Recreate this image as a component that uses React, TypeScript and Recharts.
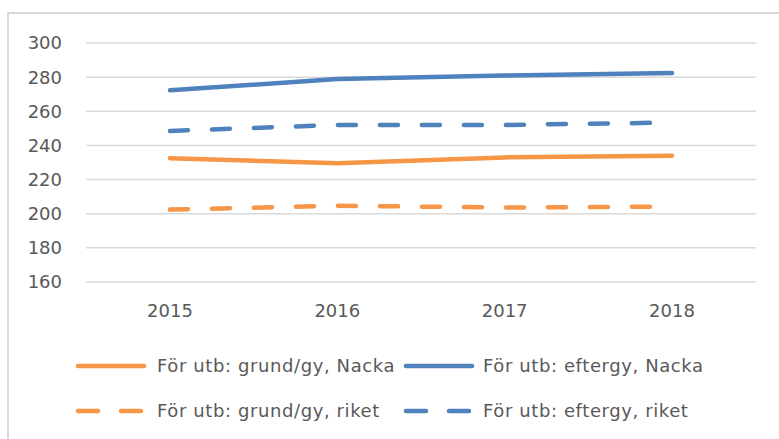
import React from 'react';
import { LineChart, Line, XAxis, YAxis, CartesianGrid } from 'recharts';

const years = ['2015', '2016', '2017', '2018'];
const grundNacka = [232.5, 229.5, 233, 234];
const efterNacka = [272.3, 278.9, 280.9, 282.4];
const grundRiket = [202.4, 204.7, 203.6, 204.2];
const efterRiket = [248.5, 252, 252, 253.4];
const yTicks = [160, 180, 200, 220, 240, 260, 280, 300];

const ORANGE = '#F79646';
const BLUE = '#4F81BD';
const TEXT = '#595959';
const FONT = '"DejaVu Sans", sans-serif';

const series = [
  { key: 'grundNacka', name: 'För utb: grund/gy, Nacka', color: ORANGE, dashed: false, values: grundNacka },
  { key: 'efterNacka', name: 'För utb: eftergy, Nacka', color: BLUE, dashed: false, values: efterNacka },
  { key: 'grundRiket', name: 'För utb: grund/gy, riket', color: ORANGE, dashed: true, values: grundRiket },
  { key: 'efterRiket', name: 'För utb: eftergy, riket', color: BLUE, dashed: true, values: efterRiket },
];

const data = years.map((y, i) => {
  const row: Record<string, string | number> = { year: y };
  series.forEach((s) => {
    row[s.key] = s.values[i];
  });
  return row;
});

const legendPos = [
  { sx: 78, tx: 157, cy: 366 },
  { sx: 406, tx: 483, cy: 366 },
  { sx: 78, tx: 157, cy: 411 },
  { sx: 406, tx: 483, cy: 411 },
];

export default function App() {
  return (
    <div style={{ position: 'absolute', left: 0, top: 0, width: 779, height: 439, overflow: 'hidden', background: '#fff', fontFamily: FONT }}>
      <div style={{ position: 'absolute', left: 7, top: 12, width: 820, height: 500, border: '2px solid #d9d9d9', boxSizing: 'border-box' }} />
      <div style={{ position: 'absolute', left: 0, top: 0 }}>
        <LineChart width={779} height={439} data={data} margin={{ top: 43, right: 23, left: 0, bottom: 0 }} style={{ fontFamily: FONT }}>
          <CartesianGrid horizontal vertical={false} stroke="#d9d9d9" strokeWidth={1.5} />
          <XAxis
            dataKey="year"
            height={157}
            axisLine={false}
            tickLine={false}
            tickSize={0}
            tickMargin={22}
            padding={{ left: 84, right: 84 }}
            tick={{ fill: TEXT, fontSize: 18, fontFamily: FONT }}
          />
          <YAxis
            width={86}
            domain={[160, 300]}
            ticks={yTicks}
            axisLine={false}
            tickLine={false}
            tickSize={0}
            tickMargin={24}
            tick={{ fill: TEXT, fontSize: 18, fontFamily: FONT }}
          />
          {series.map((s) => (
            <Line
              key={s.key}
              dataKey={s.key}
              name={s.name}
              stroke={s.color}
              strokeWidth={4.5}
              strokeLinecap="round"
              strokeDasharray={s.dashed ? '18 24' : undefined}
              dot={false}
              activeDot={false}
              type="linear"
              isAnimationActive={false}
            />
          ))}
        </LineChart>
      </div>
      {series.map((s, i) => {
        const p = legendPos[i];
        return (
          <div key={s.key}>
            <svg style={{ position: 'absolute', left: p.sx - 3, top: p.cy - 5 }} width={74} height={10}>
              <line
                x1={3}
                y1={5}
                x2={69}
                y2={5}
                stroke={s.color}
                strokeWidth={4.5}
                strokeLinecap="round"
                strokeDasharray={s.dashed ? '20 23' : undefined}
              />
            </svg>
            <div
              style={{
                position: 'absolute',
                left: p.tx,
                top: p.cy - 12,
                height: 24,
                lineHeight: '24px',
                fontSize: 18,
                color: TEXT,
                whiteSpace: 'nowrap',
                letterSpacing: 0.6,
              }}
            >
              {s.name}
            </div>
          </div>
        );
      })}
    </div>
  );
}
